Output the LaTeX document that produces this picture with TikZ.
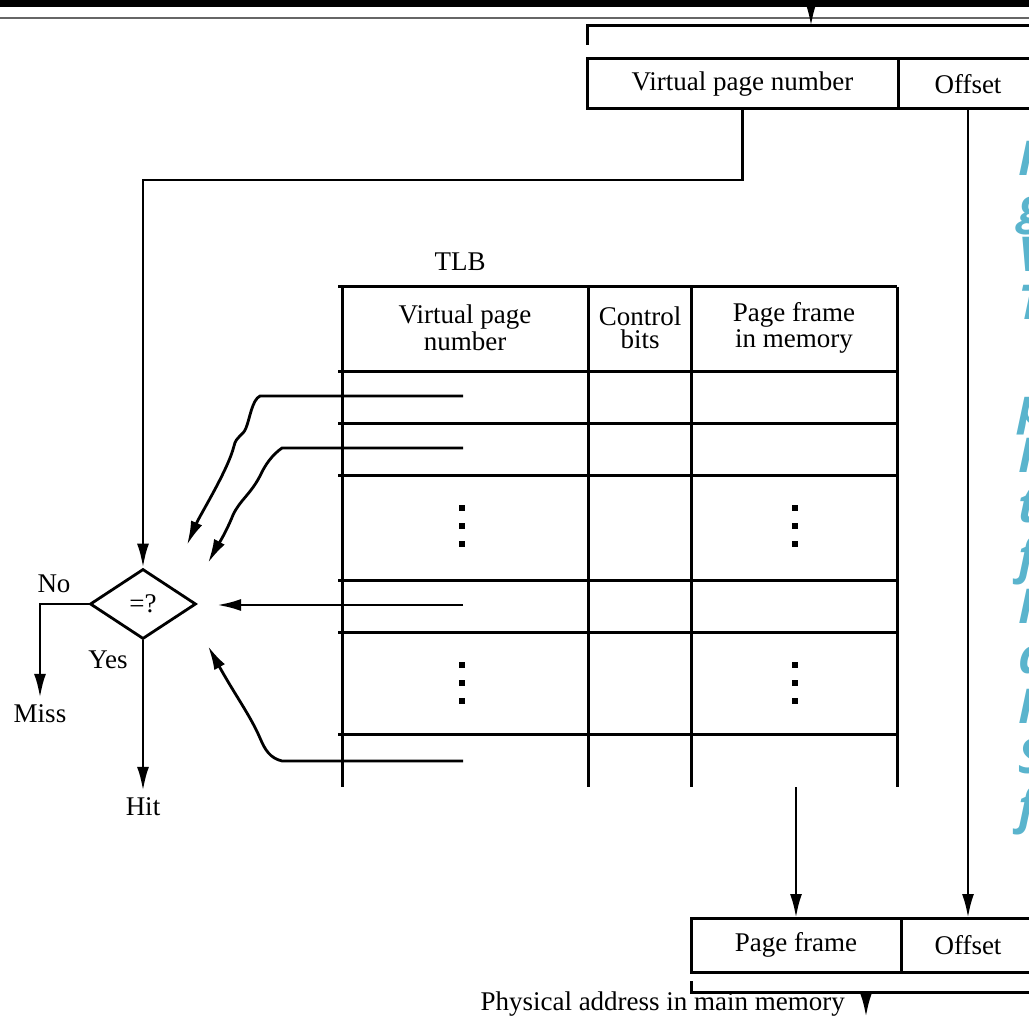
\documentclass[tikz,border=0pt]{standalone}
\usepackage{fontspec}
\setmainfont{Liberation Serif}
\newfontfamily\notefont{Open Sans}
\usetikzlibrary{arrows.meta,positioning,shapes.geometric}
\definecolor{notecol}{RGB}{90,180,205}
\tikzset{
  reg/.style={draw,line width=1.5pt,inner sep=0pt,outer sep=0pt},
  tbl/.style={line width=1.5pt},
  arr/.style={line width=1.4pt,-{Latex[length=12pt,width=6pt]}},
  hdr/.style={align=center,font=\fontsize{13.5}{11.5}\selectfont},
  note/.style={notecol,font=\notefont\bfseries\itshape\fontsize{24}{24}\selectfont,inner sep=0pt,anchor=base west},
}
\begin{document}
\begin{tikzpicture}[x=0.5pt,y=-0.5pt,font=\fontsize{13.5}{15}\selectfont]
  \useasboundingbox (0,0) rectangle (1029,1016);
  \clip (0,0) rectangle (1029,1016);
  % slide frame
  \fill[black] (0,0) rectangle (1029,7);
  \draw[black!60,line width=1pt] (0,18) -- (1029,18);
  % virtual address
  \coordinate (vin) at (811,0);
  \coordinate (vbr) at (811,26);
  \draw[line width=1.5pt] (587,45) -- (587,26) -- (1040,26);
  \draw[arr] (vin) -- (vbr);
  \node[reg,minimum width=155.5pt,minimum height=25pt,anchor=north west] (vpn) at (587,59) {Virtual page number};
  \node[reg,minimum width=70pt,minimum height=25pt,right=0pt of vpn] (off) {Offset};
  % TLB
  \node (tlb) at (460,262) {TLB};
  \foreach \y in {287,372,424,475,580,632,734}
    \draw[tbl] (338,\y) -- (897,\y);
  \foreach \x in {342,588,691,897}
    \draw[tbl] (\x,287) -- (\x,787);
  \node[hdr] (hvpn) at (465,328) {Virtual page\\number};
  \node[hdr] (hctl) at (640,328) {Control\\bits};
  \node[hdr] (hpf) at (794,328) {Page frame\\in memory};
  \foreach \x in {462,795}
    \foreach \y in {508,526,544,665,683,701}
      \fill (\x-3,\y-3) rectangle ++(6,6);
  % compare
  \node[draw,diamond,line width=1.4pt,minimum width=53pt,minimum height=35pt,inner sep=0pt] (cmp) at (143,604) {=?};
  \node (no) at (54,584) {No};
  \node (yes) at (108,660) {Yes};
  \node (miss) at (40,714) {Miss};
  \node (hit) at (143,807) {Hit};
  \draw[arr] (vpn.south) -- ++(0,71) -| (cmp.north);
  \draw[arr] (cmp.west) -| (miss.north);
  \draw[arr] (cmp.south) -- (hit.north);
  \coordinate (e1) at (463,396);
  \coordinate (e2) at (463,448);
  \coordinate (e3) at (463,605);
  \coordinate (e4) at (463,761);
  \coordinate (t1) at (187,545);
  \coordinate (t2) at (208,563);
  \coordinate (t3) at (217,605);
  \coordinate (t4) at (208,646);
  \draw[arr] (e1) -- (260,396) .. controls (252,400) and (250,418) .. (246,428)
    .. controls (243,436) and (236,436) .. (234,446) .. controls (228,470) and (200,515) .. (t1);
  \draw[arr] (e2) -- (282,448) .. controls (272,455) and (265,465) .. (260,476)
    .. controls (250,495) and (240,500) .. (233,515) .. controls (225,535) and (215,550) .. (t2);
  \draw[arr] (e3) -- (t3);
  \draw[arr] (e4) -- (282,761) .. controls (270,758) and (265,750) .. (260,738)
    .. controls (250,715) and (235,695) .. (t4);
  % physical address
  \node[reg,minimum width=105pt,minimum height=27pt,anchor=north west] (pf) at (691,918) {Page frame};
  \node[reg,minimum width=67pt,minimum height=27pt,right=0pt of pf] (off2) {Offset};
  \coordinate (tbot) at (796,787);
  \draw[arr] (tbot) -- (pf.north);
  \draw[arr] (off.south) -- (off2.north);
  \draw[line width=1.5pt] (691,981) -- (691,992) -- (1040,992);
  \coordinate (pbr) at (866,992);
  \coordinate (pout) at (866,1017);
  \draw[arr] (pbr) -- (pout);
  \node[anchor=east] (phys) at (852,1004) {Physical address in main memory};
  % clipped slide notes
  \foreach \y/\c in {176/I,224/g,272/V,320/T,423/p,473/I,523/t,573/f,623/I,673/a,723/I,773/S,823/f}
    \node[note] at (1018,\y) {\c};
\end{tikzpicture}
\end{document}
